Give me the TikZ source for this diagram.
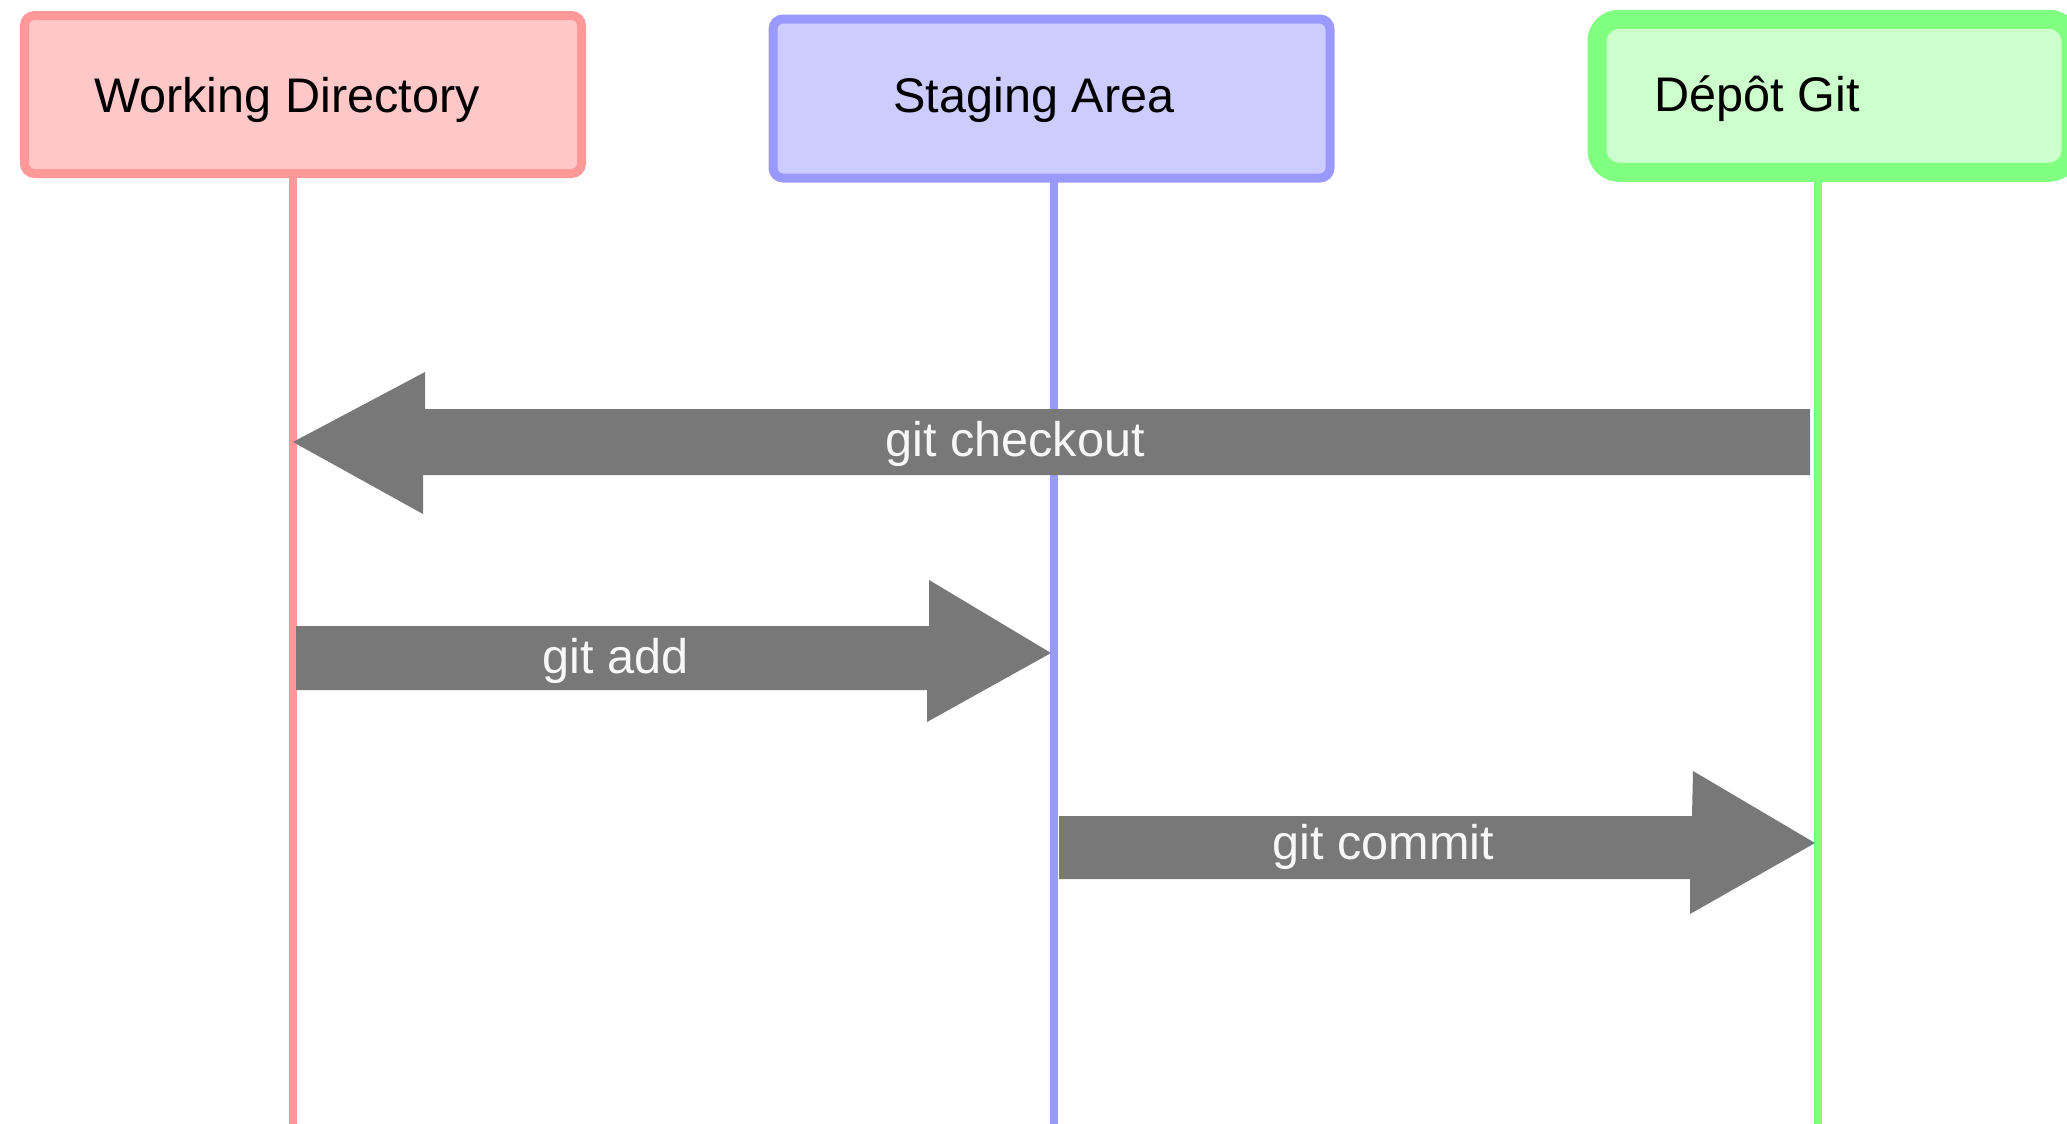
\documentclass[tikz,border=0pt]{standalone}
\usepackage{fontspec}
\setmainfont{Liberation Sans}
\definecolor{wdfill}{HTML}{FFC8C8}
\definecolor{wdline}{HTML}{FF9999}
\definecolor{safill}{HTML}{CCCCFF}
\definecolor{saline}{HTML}{9999FF}
\definecolor{gitfill}{HTML}{CCFFCC}
\definecolor{gitline}{HTML}{80FF80}
\definecolor{cmdgray}{HTML}{787878}
\tikzset{
  area/.style={rectangle, inner sep=0pt, outer sep=0pt},
  title/.style={anchor=base west, inner sep=0pt, font=\fontsize{24.3}{28}\selectfont, text=black},
  cmdtext/.style={anchor=base west, inner sep=0pt, font=\fontsize{24.3}{28}\selectfont, text=white!97!black},
  lifeline/.style={line width=4pt},
  cmdarrow/.style={fill=cmdgray, draw=none},
}
\begin{document}
\begin{tikzpicture}[x=0.5pt, y=-0.5pt]
  \useasboundingbox (0,0) rectangle (2067,1124);
  \clip (0,0) rectangle (2067,1124);

  % the three areas
  \node[area, draw=wdline, fill=wdfill, line width=4.5pt, rounded corners=5pt,
        minimum width=278.5pt, minimum height=79pt] (wd) at (303,94.5) {};
  \node[area, draw=saline, fill=safill, line width=4.5pt, rounded corners=5pt,
        minimum width=278.5pt, minimum height=79.5pt] (sa) at (1051.5,98.5) {};
  \node[area, draw=gitline, fill=gitfill, line width=9.5pt, rounded corners=11pt,
        minimum width=237pt, minimum height=76.5pt] (git) at (1834,95.75) {};

  \node[title] (wdlabel) at (94,112) {Working Directory};
  \node[title] (salabel) at (893,112) {Staging Area};
  \node[title] (gitlabel) at (1654,111) {Dépôt Git};

  % lifelines
  \coordinate (wdend) at (293,1124);
  \coordinate (saend) at (1054,1124);
  \coordinate (gitend) at (1818,1124);
  \draw[lifeline, wdline] (wdend |- wd.south) -- (wdend);
  \draw[lifeline, saline] (saend |- sa.south) -- (saend);
  \draw[lifeline, gitline] (gitend |- git.south) -- (gitend);

  % git checkout: repository -> working directory
  \fill[cmdarrow] (1810,409) -- (425,409) -- (425,372) -- (293,442)
    -- (423,514) -- (423,475) -- (1810,475) -- cycle;
  % git add: working directory -> staging area
  \fill[cmdarrow] (296,626) -- (929,626) -- (929,580) -- (1051,653)
    -- (927,722) -- (927,690) -- (296,690) -- cycle;
  % git commit: staging area -> repository
  \fill[cmdarrow] (1059,816) -- (1692,816) -- (1693,771) -- (1815,843)
    -- (1690,914) -- (1690,879) -- (1059,879) -- cycle;

  \node[cmdtext] (checkout) at (885,456) {git checkout};
  \node[cmdtext] (add) at (542,673) {git add};
  \node[cmdtext] (commit) at (1272,859) {git commit};
\end{tikzpicture}
\end{document}
